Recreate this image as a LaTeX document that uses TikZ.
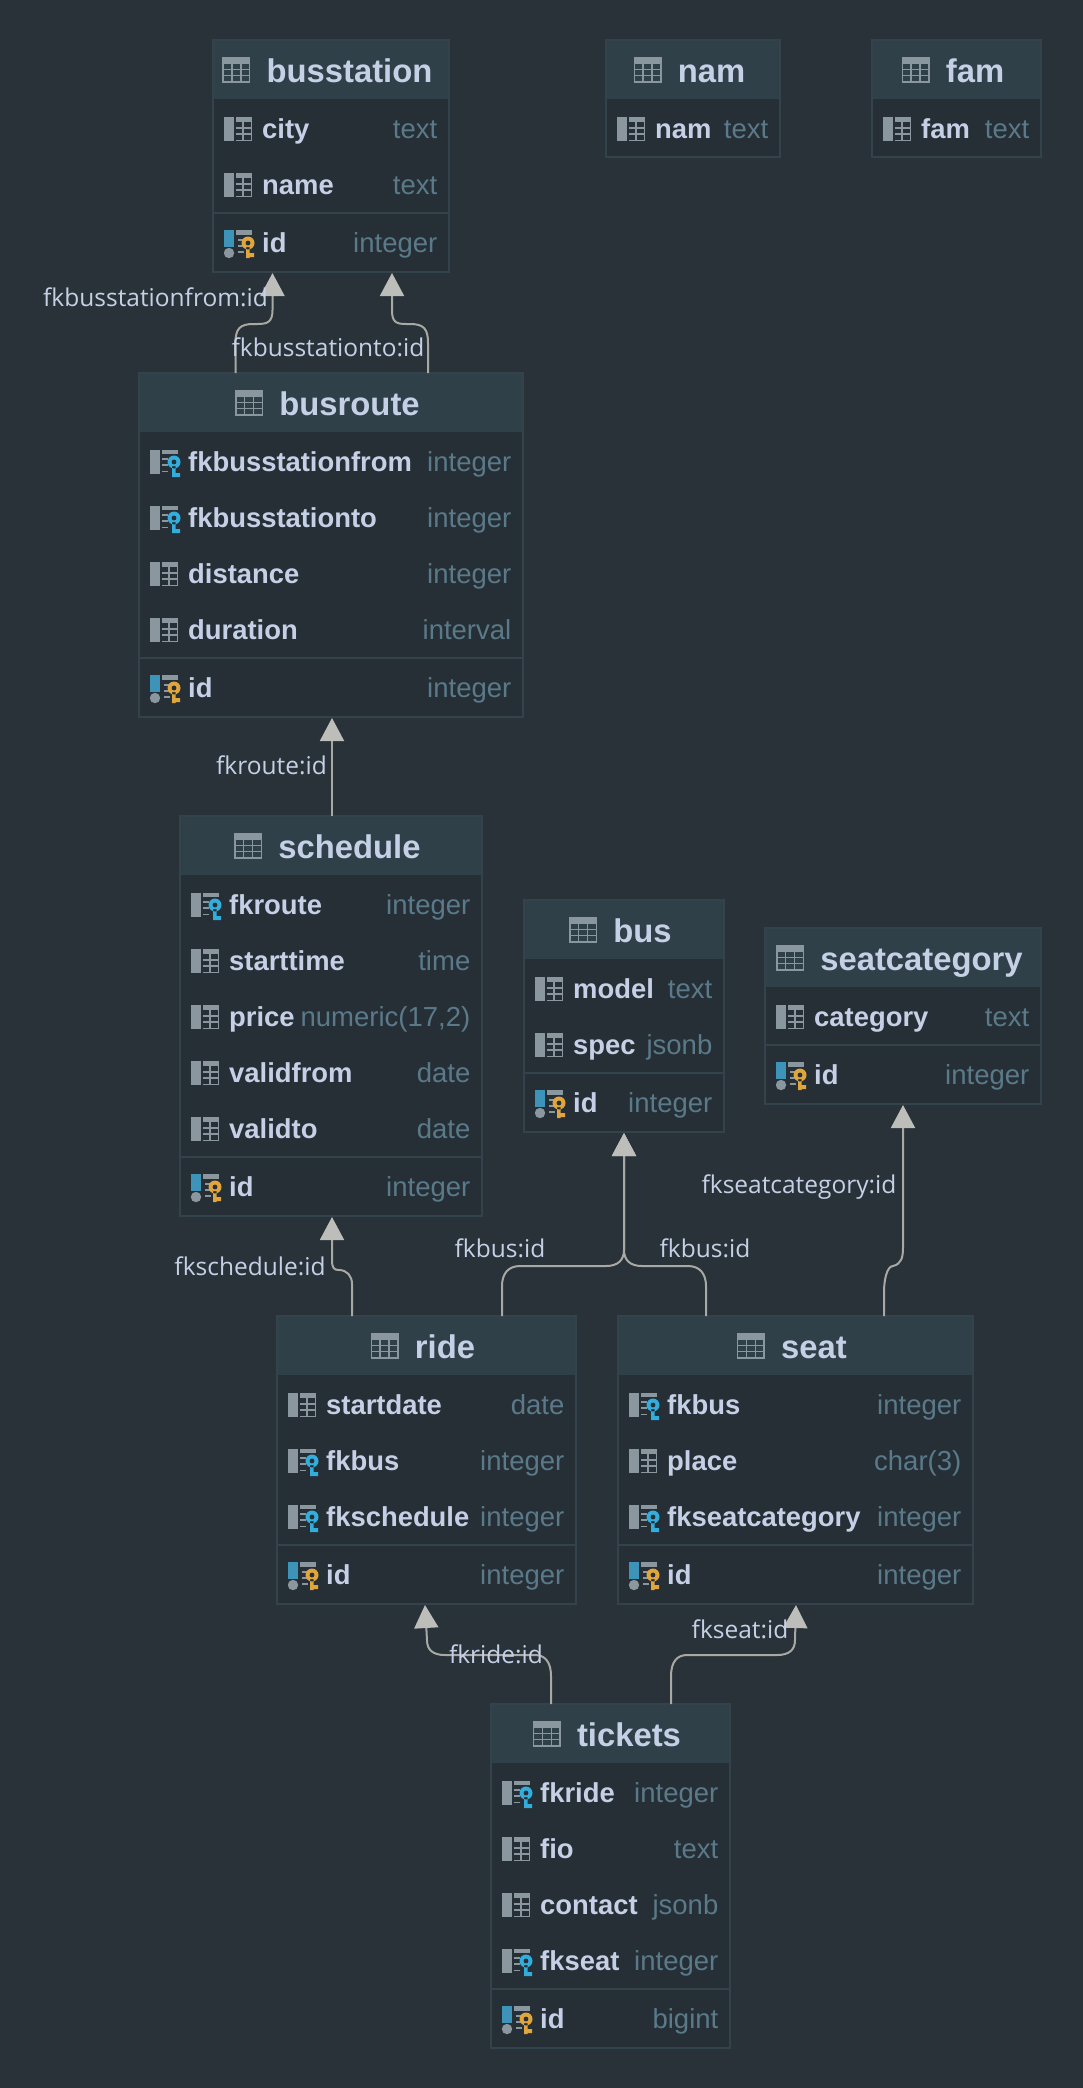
\documentclass[tikz,border=0pt]{standalone}
\usepackage{fontspec}
\usetikzlibrary{arrows.meta,calc}
\setmainfont{Liberation Sans}
\newfontfamily\lblfont{Open Sans}
\definecolor{pagebg}{HTML}{283238}
\definecolor{bodybg}{HTML}{262F36}
\definecolor{headbg}{HTML}{304049}
\definecolor{edge}{HTML}{34424C}
\definecolor{ink}{HTML}{C5D0E6}
\definecolor{typeink}{HTML}{5A7A8A}
\definecolor{iconink}{HTML}{8A979F}
\definecolor{pkbar}{HTML}{3E94B8}
\definecolor{pkkey}{HTML}{E0A63C}
\definecolor{fkkey}{HTML}{33ADDC}
\definecolor{wire}{HTML}{A8A8A4}
\definecolor{tipfill}{HTML}{BDBDB9}
\tikzset{
  x=1pt,y=-1pt,
  box/.style={draw=edge,line width=1.4pt,fill=bodybg,inner sep=0pt,outer sep=0pt,rectangle},
  head/.style={fill=headbg,inner sep=0pt,outer sep=0pt,rectangle},
  titletxt/.style={inner sep=0pt,anchor=base,font=\fontsize{32.8}{33}\selectfont\bfseries,text=ink},
  nametxt/.style={inner sep=0pt,anchor=base west,font=\fontsize{27.4}{30}\selectfont\bfseries,text=ink},
  typetxt/.style={inner sep=0pt,anchor=base east,font=\fontsize{27.5}{30}\selectfont,text=typeink},
  lbl/.style={inner sep=0pt,font=\lblfont\fontsize{24.5}{26}\selectfont,text=ink},
  conn/.style={draw=wire,line width=2pt,-{Triangle[width=24pt,length=23pt,fill=tipfill,color=tipfill]}},
  tblicon/.pic={
    \fill[iconink] (0,-12) rectangle (28,-6);
    \draw[iconink,line width=1.5pt] (.75,-12) rectangle (27.25,12)
      (0,-.5)--(28,-.5) (0,5.5)--(28,5.5) (9.5,-6)--(9.5,12) (18.5,-6)--(18.5,12);
  },
  gridpart/.pic={
    \fill[iconink] (12,-12) rectangle (28,-7);
    \draw[iconink,line width=1.5pt] (12,-1)--(28,-1) (12,5)--(28,5) (12,11.25)--(28,11.25)
      (27.25,-12)--(27.25,12) (19,-7)--(19,12);
  },
  colicon/.pic={
    \fill[iconink] (0,-12) rectangle (10,12);
    \pic {gridpart};
  },
  fkicon/.pic={
    \fill[iconink] (0,-12) rectangle (10,12);
    \fill[iconink] (12,-12) rectangle (28,-8);
    \draw[iconink,line width=1.5pt] (12,-3)--(18,-3) (12,3)--(18,3) (12,9.5)--(18,9.5);
    \fill[fkkey] (24,0) circle (6.5) (22,4) rectangle (25.5,15) (25,11) rectangle (30,15);
    \fill[bodybg] (24,0) circle (2.4);
  },
  pkicon/.pic={
    \fill[pkbar] (0,-14) rectangle (10,3);
    \fill[iconink] (5,9) circle (5.2);
    \fill[iconink] (12,-14) rectangle (28,-9);
    \draw[iconink,line width=1.5pt] (14,-4)--(20,-4) (14,2)--(20,2) (14,8)--(20,8);
    \fill[pkkey] (24,-1) circle (6.5) (22,3) rectangle (25.5,14) (25,9) rectangle (30,13);
    \fill[bodybg] (24,-1) circle (2.4);
  }
}
% id, left, right, top, nrows, haspk(1/0), title
\newcommand\dbtable[7]{%
  \def\curid{#1}\def\curL{#2}\def\curR{#3}\def\curT{#4}\def\curN{#5}%
  \pgfmathsetmacro\curH{#6>0 ? 59+56*#5+61 : 59+56*#5+2}%
  \pgfmathsetmacro\curW{#3-#2}%
  \pgfmathsetmacro\curCx{(#2+#3)/2}%
  \node[box,minimum width=\curW pt,minimum height=\curH pt] (#1) at (\curCx,#4+\curH/2) {};
  \node[head,minimum width=\curW pt-2pt,minimum height=58pt] (#1-h) at (\curCx,#4+30) {};
  \node[titletxt] (#1-t) at (\curCx+18.5,#4+42) {#7};
  \pic at ($(#1-t.base west)+(-44,-12)$) {tblicon};
  \ifnum#6>0
    \draw[edge,line width=1.4pt] (#2,#4+59+56*#5+2) -- (#3,#4+59+56*#5+2);
  \fi
}
% icon, row number, name, type
\newcommand\dbrow[4]{%
  \pic at (\curL+11,\curT+33+56*#2) {#1};
  \node[nametxt] (\curid-n#2) at (\curL+49,\curT+42.5+56*#2) {#3};
  \node[typetxt] (\curid-y#2) at (\curR-11.5,\curT+42.5+56*#2) {#4};
}
\newcommand\dbpk[2]{%
  \pic at (\curL+11,\curT+89+56*\curN+3) {pkicon};
  \node[nametxt] (\curid-pn) at (\curL+49,\curT+59+56*\curN+41.5) {#1};
  \node[typetxt] (\curid-py) at (\curR-11.5,\curT+59+56*\curN+41.5) {#2};
}
\begin{document}
\begin{tikzpicture}
\useasboundingbox (0,0) rectangle (1082,2088);
\fill[pagebg] (-3,-3) rectangle (1085,2091);
\dbtable{busstation}{213}{449}{40}{2}{1}{busstation}
\dbrow{colicon}{1}{city}{text}
\dbrow{colicon}{2}{name}{text}
\dbpk{id}{integer}
\dbtable{nam}{606}{780}{40}{1}{0}{nam}
\dbrow{colicon}{1}{nam}{text}
\dbtable{fam}{872}{1041}{40}{1}{0}{fam}
\dbrow{colicon}{1}{fam}{text}
\dbtable{busroute}{139}{523}{373}{4}{1}{busroute}
\dbrow{fkicon}{1}{fkbusstationfrom}{integer}
\dbrow{fkicon}{2}{fkbusstationto}{integer}
\dbrow{colicon}{3}{distance}{integer}
\dbrow{colicon}{4}{duration}{interval}
\dbpk{id}{integer}
\dbtable{schedule}{180}{482}{816}{5}{1}{schedule}
\dbrow{fkicon}{1}{fkroute}{integer}
\dbrow{colicon}{2}{starttime}{time}
\dbrow{colicon}{3}{price}{numeric(17,2)}
\dbrow{colicon}{4}{validfrom}{date}
\dbrow{colicon}{5}{validto}{date}
\dbpk{id}{integer}
\dbtable{bus}{524}{724}{900}{2}{1}{bus}
\dbrow{colicon}{1}{model}{text}
\dbrow{colicon}{2}{spec}{jsonb}
\dbpk{id}{integer}
\dbtable{seatcategory}{765}{1041}{928}{1}{1}{seatcategory}
\dbrow{colicon}{1}{category}{text}
\dbpk{id}{integer}
\dbtable{ride}{277}{576}{1316}{3}{1}{ride}
\dbrow{colicon}{1}{startdate}{date}
\dbrow{fkicon}{2}{fkbus}{integer}
\dbrow{fkicon}{3}{fkschedule}{integer}
\dbpk{id}{integer}
\dbtable{seat}{618}{973}{1316}{3}{1}{seat}
\dbrow{fkicon}{1}{fkbus}{integer}
\dbrow{colicon}{2}{place}{char(3)}
\dbrow{fkicon}{3}{fkseatcategory}{integer}
\dbpk{id}{integer}
\dbtable{tickets}{491}{730}{1704}{4}{1}{tickets}
\dbrow{fkicon}{1}{fkride}{integer}
\dbrow{colicon}{2}{fio}{text}
\dbrow{colicon}{3}{contact}{jsonb}
\dbrow{fkicon}{4}{fkseat}{integer}
\dbpk{id}{bigint}
% connectors
\draw[conn] ($(busroute.north west)+(96.5,0)$) -- ++(0,-30) .. controls ++(0,-14) and ++(-14,0) .. ++(18,-19) -- ++(4,0) .. controls ++(10,0) and ++(0,12) .. ++(15,-14) -- ($(busstation.south west)+(59.5,1)$);
\draw[conn] ($(busroute.north west)+(289,0)$) -- ++(0,-30) .. controls ++(0,-14) and ++(14,0) .. ++(-18,-19) -- ++(-4,0) .. controls ++(-10,0) and ++(0,12) .. ++(-14,-14) -- ($(busstation.south west)+(179,1)$);
\draw[conn] ($(schedule.north west)+(152,0)$) -- ($(busroute.south west)+(193,1)$);
\draw[conn] ($(ride.north west)+(75,0)$) -- ++(0,-32) .. controls ++(0,-8) and ++(8,0) .. ++(-13,-14) .. controls ++(-5,0) and ++(0,8) .. ++(-7,-10) -- ($(schedule.south west)+(152,1)$);
\draw[conn] ($(ride.north west)+(225,0)$) -- ++(0,-30) .. controls ++(0,-12) and ++(-12,0) .. ++(18,-20) -- ++(86,0) .. controls ++(12,0) and ++(0,10) .. ++(18,-16) -- ($(bus.south west)+(100,1)$);
\draw[conn] ($(seat.north west)+(88,0)$) -- ++(0,-30) .. controls ++(0,-12) and ++(12,0) .. ++(-18,-20) -- ++(-46,0) .. controls ++(-12,0) and ++(0,10) .. ++(-18,-16) -- ($(bus.south west)+(100,1)$);
\draw[conn] ($(seat.north west)+(266,0)$) -- ++(0,-24) .. controls ++(0,-12) and ++(-6,0) .. ++(9,-26) .. controls ++(8,-2) and ++(0,10) .. ++(10,-18) -- ($(seatcategory.south west)+(138,1)$);
\draw[conn] ($(tickets.north west)+(60,0)$) -- ++(0,-28) .. controls ++(0,-14) and ++(10,0) .. ++(-16,-21) -- ++(-90,0) .. controls ++(-12,0) and ++(0,10) .. ++(-18,-15) -- ($(ride.south west)+(148,1)$);
\draw[conn] ($(tickets.north west)+(180,0)$) -- ++(0,-28) .. controls ++(0,-14) and ++(-10,0) .. ++(16,-21) -- ++(90,0) .. controls ++(12,0) and ++(0,10) .. ++(18,-15) -- ($(seat.south west)+(178,1)$);
% labels
\node[lbl] (l1) at (155.5,297) {fkbusstationfrom:id};
\node[lbl] (l2) at (328,347) {fkbusstationto:id};
\node[lbl] (l3) at (271.5,765) {fkroute:id};
\node[lbl] (l4) at (250,1266) {fkschedule:id};
\node[lbl] (l5) at (500,1248) {fkbus:id};
\node[lbl] (l6) at (705,1248) {fkbus:id};
\node[lbl] (l7) at (799,1187) {fkseatcategory:id};
\node[lbl] (l8) at (496,1654) {fkride:id};
\node[lbl] (l9) at (740,1629) {fkseat:id};
\end{tikzpicture}
\end{document}
